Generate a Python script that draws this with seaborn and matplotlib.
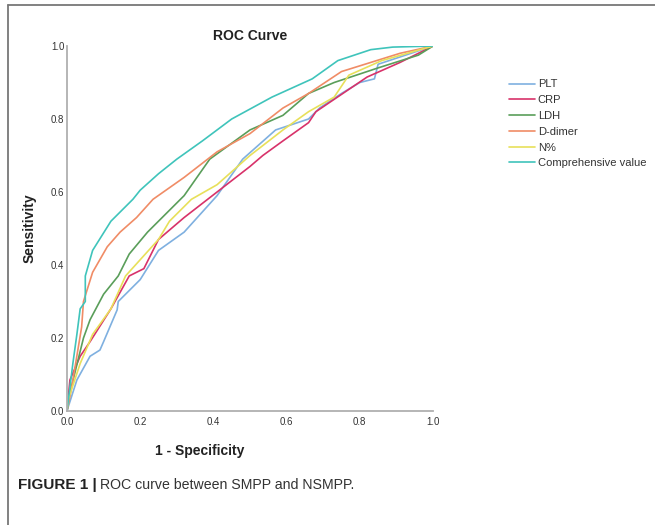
import matplotlib
matplotlib.use("Agg")
import matplotlib.pyplot as plt
import seaborn as sns
import pandas as pd
from matplotlib.lines import Line2D

# ---- data ----
series_names = ["PLT", "CRP", "LDH", "D-dimer", "N%", "Comprehensive value"]

plt_fpr = [0, 0.003, 0.027, 0.063, 0.09, 0.10, 0.137, 0.14, 0.20, 0.25, 0.32, 0.41, 0.48, 0.57, 0.66, 0.69, 0.75, 0.80, 0.84, 0.85, 0.91, 1.0]
plt_tpr = [0, 0.01, 0.085, 0.15, 0.167, 0.19, 0.277, 0.30, 0.36, 0.44, 0.49, 0.59, 0.69, 0.77, 0.80, 0.83, 0.87, 0.90, 0.91, 0.95, 0.97, 1.0]

crp_fpr = [0, 0.008, 0.036, 0.063, 0.12, 0.17, 0.21, 0.25, 0.32, 0.41, 0.50, 0.535, 0.59, 0.66, 0.68, 0.82, 0.91, 1.0]
crp_tpr = [0, 0.085, 0.15, 0.19, 0.28, 0.37, 0.39, 0.47, 0.53, 0.60, 0.67, 0.70, 0.74, 0.79, 0.82, 0.915, 0.955, 1.0]

ldh_fpr = [0, 0.008, 0.045, 0.063, 0.10, 0.14, 0.17, 0.22, 0.30, 0.32, 0.39, 0.50, 0.59, 0.66, 0.73, 0.85, 0.96, 1.0]
ldh_tpr = [0, 0.05, 0.20, 0.25, 0.32, 0.37, 0.43, 0.49, 0.57, 0.59, 0.69, 0.77, 0.81, 0.87, 0.90, 0.94, 0.975, 1.0]

dd_fpr = [0, 0.013, 0.04, 0.045, 0.07, 0.11, 0.145, 0.19, 0.235, 0.32, 0.41, 0.50, 0.59, 0.66, 0.75, 0.91, 1.0]
dd_tpr = [0, 0.066, 0.23, 0.30, 0.38, 0.45, 0.49, 0.53, 0.58, 0.64, 0.71, 0.76, 0.83, 0.87, 0.93, 0.98, 1.0]

n_fpr = [0, 0.003, 0.036, 0.07, 0.12, 0.16, 0.25, 0.28, 0.34, 0.41, 0.50, 0.59, 0.66, 0.73, 0.77, 0.86, 1.0]
n_tpr = [0, 0.03, 0.13, 0.21, 0.28, 0.37, 0.47, 0.52, 0.58, 0.62, 0.70, 0.77, 0.82, 0.86, 0.92, 0.96, 1.0]

comp_fpr = [0, 0.016, 0.027, 0.036, 0.05, 0.05, 0.07, 0.12, 0.18, 0.20, 0.25, 0.30, 0.37, 0.45, 0.56, 0.67, 0.74, 0.83, 0.89, 1.0]
comp_tpr = [0, 0.13, 0.21, 0.28, 0.30, 0.37, 0.44, 0.52, 0.58, 0.605, 0.65, 0.69, 0.74, 0.80, 0.86, 0.91, 0.96, 0.99, 0.997, 1.0]

tick_values = [0.0, 0.2, 0.4, 0.6, 0.8, 1.0]
tick_labels = ["0.0", "0.2", "0.4", "0.6", "0.8", "1.0"]

colors = ["#7fb0e0", "#d8326a", "#5a9e5a", "#f08c66", "#e8e05a", "#3fc4bb"]

all_fpr = [plt_fpr, crp_fpr, ldh_fpr, dd_fpr, n_fpr, comp_fpr]
all_tpr = [plt_tpr, crp_tpr, ldh_tpr, dd_tpr, n_tpr, comp_tpr]

rows = []
for name, fx, ty in zip(series_names, all_fpr, all_tpr):
    for i, (a, b) in enumerate(zip(fx, ty)):
        rows.append({"series": name, "order": i, "fpr": a, "tpr": b})
df = pd.DataFrame(rows)

sns.set_theme(style="white")
plt.rcParams["font.family"] = ["Liberation Sans", "DejaVu Sans"]

fig = plt.figure(figsize=(6.55, 5.25), dpi=100)
ax = fig.add_axes([67 / 655, 1 - 411 / 525, (433 - 67) / 655, (411 - 46) / 525])

sns.lineplot(data=df, x="fpr", y="tpr", hue="series", hue_order=series_names,
             palette=colors, sort=False, estimator=None, units="series",
             linewidth=1.2, ax=ax, legend=False)

ax.set_xlim(0, 1)
ax.set_ylim(0, 1)
ax.set_xticks(tick_values)
ax.set_xticklabels(tick_labels)
ax.set_yticks(tick_values)
ax.set_yticklabels(tick_labels)
ax.tick_params(axis="both", length=0, labelsize=7, colors="#333333", pad=2)
ax.tick_params(axis="x", pad=4)
for s in ["top", "right"]:
    ax.spines[s].set_visible(False)
for s in ["left", "bottom"]:
    ax.spines[s].set_color("#b0b0b0")
    ax.spines[s].set_linewidth(1.3)
ax.set_xlabel("")
ax.set_ylabel("")

fig.text(250 / 655, 1 - 36 / 525, "ROC Curve", ha="center", va="center",
         fontsize=10, fontweight="bold", color="#222222")
fig.text(200 / 655, 1 - 451 / 525, "1 - Specificity", ha="center", va="center",
         fontsize=10, fontweight="bold", color="#222222")
fig.text(30 / 655, 1 - 228 / 525, "Sensitivity", ha="center", va="center",
         rotation=90, fontsize=10, fontweight="bold", color="#222222")

handles = [Line2D([0], [0], color=c, lw=1.2) for c in colors]
fig.legend(handles, series_names, loc="upper left",
           bbox_to_anchor=(505 / 655, 1 - 75 / 525), frameon=False,
           fontsize=8, handlelength=2.3, handletextpad=0.25,
           labelspacing=0.52, borderaxespad=0, labelcolor="#333333")

fig.text(18 / 655, 1 - 485 / 525, "FIGURE 1 |", ha="left", va="center",
         fontsize=11, fontweight="bold", color="#222222")
fig.text(100 / 655, 1 - 485 / 525, "ROC curve between SMPP and NSMPP.",
         ha="left", va="center", fontsize=10.2, color="#333333")

# outer frame of the figure panel (left and top edges)
fig.add_artist(Line2D([8 / 655, 8 / 655], [0, 1 - 5 / 525], color="#777777",
                      lw=1.3, transform=fig.transFigure))
fig.add_artist(Line2D([8 / 655, 1], [1 - 5 / 525, 1 - 5 / 525], color="#777777",
                      lw=1.3, transform=fig.transFigure))

fig.savefig("out.png", dpi=100)
